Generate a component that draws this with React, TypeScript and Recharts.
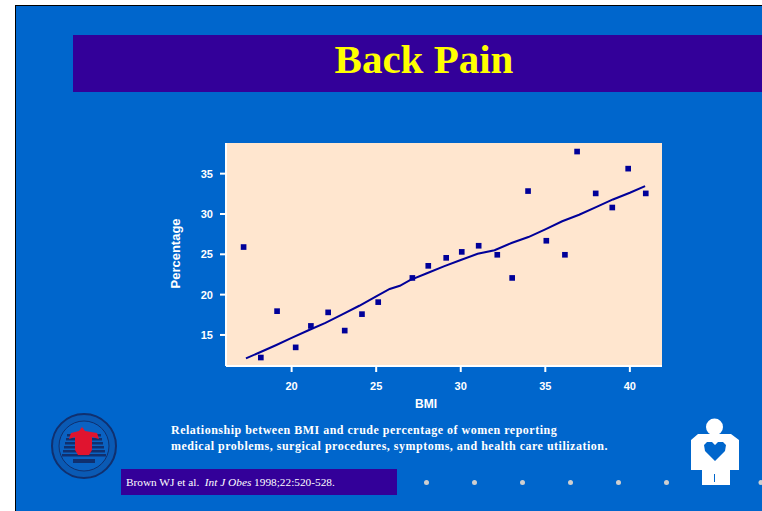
import React from 'react';
import { ComposedChart, Line, Scatter, XAxis, YAxis, ZAxis, CartesianGrid } from 'recharts';

const bmiPoints = [17.16, 18.18, 19.14, 20.24, 21.14, 22.16, 23.14, 24.16, 25.12, 27.14, 28.08, 29.14, 30.06, 31.06, 32.16, 33.04, 33.98, 35.06, 36.16, 36.88, 37.98, 38.96, 39.9, 40.94];
const percentPoints = [25.9, 12.2, 17.95, 13.46, 16.12, 17.8, 15.54, 17.58, 19.07, 22.07, 23.57, 24.56, 25.3, 26.06, 24.94, 22.07, 32.84, 26.68, 24.94, 37.74, 32.55, 30.8, 35.62, 32.55];
const fitBmi = [17.3, 18.2, 19.1, 20, 21, 22, 23, 24, 25, 25.8, 26.4, 27, 28, 29, 30, 31, 32, 33, 34, 35, 36, 37, 38, 39, 40, 40.9];
const fitPercent = [12.09, 12.92, 13.75, 14.63, 15.58, 16.5, 17.54, 18.62, 19.78, 20.7, 21.1, 21.8, 22.65, 23.5, 24.3, 25.06, 25.5, 26.4, 27.14, 28.1, 29.1, 29.9, 30.84, 31.8, 32.63, 33.46];
const xTicks = [20, 25, 30, 35, 40];
const yTicks = [15, 20, 25, 30, 35];
const dotsX = [426.5, 474.5, 522.5, 570.5, 618.5, 666.5, 761];

const scatterData = bmiPoints.map((x, i) => ({ x, y: percentPoints[i] }));
const fitData = fitBmi.map((x, i) => ({ x, fit: fitPercent[i] }));

const PURPLE = '#330099';
const BLUE = '#0066cc';
const tickStyle = { fill: '#ffffff', fontSize: 11, fontWeight: 700, fontFamily: 'Liberation Sans' };

const Logo = () => (
  <svg width={72} height={72} style={{ position: 'absolute', left: 48, top: 410 }}>
    <circle cx={36} cy={36} r={32} fill="#0a5ab4" stroke="#10306f" strokeWidth={2} />
    <circle cx={36} cy={36} r={25} fill="#0a62c2" stroke="#10306f" strokeWidth={1} />
    {[24, 28, 32, 36, 40, 44].map((y, i) => (
      <rect key={y} x={19 - i} y={y} width={34 + i * 2} height={2.5} fill="#10306f" />
    ))}
    <path d="M34 17 L37 21 L49 23 L51 29 L44 27 L44 40 L41 45 L30 45 L27 40 L27 27 L21 29 L23 23 L31 21 Z" fill="#e0142f" />
    <rect x={25} y={49} width={22} height={4} fill="#10306f" />
  </svg>
);

const Person = () => (
  <svg width={56} height={70} style={{ position: 'absolute', left: 688, top: 417 }}>
    <circle cx={26.5} cy={10} r={8.5} fill="#ffffff" />
    <path d="M10 17 L43 17 L51 23 L51 53 L42 53 L42 68 L14 68 L14 53 L3 53 L3 23 Z" fill="#ffffff" />
    <path d="M27 44 L17 34 L16 28 L19 25 L24 25 L27 28 L30 25 L35 25 L38 28 L37 34 Z" fill={BLUE} />
    <rect x={26} y={57} width={1} height={8} fill={BLUE} />
  </svg>
);

export default function App() {
  return (
    <div style={{ position: 'fixed', left: 0, top: 0, width: 762, height: 511, background: '#ffffff', overflow: 'hidden' }}>
      <div style={{ position: 'absolute', left: 15, top: 5, width: 747, height: 506, background: BLUE, borderLeft: '1px solid #000', borderTop: '1px solid #000', boxSizing: 'border-box' }} />
      <div style={{ position: 'absolute', left: 73, top: 35, width: 689, height: 57, background: PURPLE }} />
      <div style={{ position: 'absolute', left: 73, top: 35, width: 702, height: 49, lineHeight: '49px', textAlign: 'center', color: '#ffff00', fontFamily: 'Liberation Serif', fontWeight: 700, fontSize: 41 }}>
        Back Pain
      </div>

      <div style={{ position: 'absolute', left: 0, top: 0 }}>
        <ComposedChart
          width={762}
          height={511}
          data={fitData}
          margin={{ left: 175, right: 100, top: 143, bottom: 105 }}
        >
          <CartesianGrid fill="#ffe6cf" stroke="none" horizontal={false} vertical={false} />
          <XAxis
            type="number"
            dataKey="x"
            domain={[16.12, 41.9]}
            ticks={xTicks}
            stroke="#ffffff"
            strokeWidth={2}
            tickSize={6}
            tickMargin={10}
            height={40}
            tick={tickStyle}
            label={{ value: 'BMI', position: 'insideBottom', offset: 0, dx: -18, dy: 2, style: { ...tickStyle, fontSize: 12 } }}
          />
          <YAxis
            type="number"
            domain={[11.15, 38.8]}
            ticks={yTicks}
            stroke="#ffffff"
            strokeWidth={2}
            tickSize={6}
            tickMargin={7}
            width={51}
            tick={tickStyle}
            label={{ value: 'Percentage', angle: -90, position: 'insideLeft', offset: 0, dy: 34, style: { ...tickStyle, fontSize: 13 } }}
          />
          <ZAxis range={[32, 32]} />
          <Line data={fitData} dataKey="fit" type="linear" stroke="#000099" strokeWidth={2} dot={false} isAnimationActive={false} />
          <Scatter data={scatterData} dataKey="y" fill="#000099" shape="square" isAnimationActive={false} />
        </ComposedChart>
      </div>

      <div style={{ position: 'absolute', left: 171, top: 422, color: '#ffffff', fontFamily: 'Liberation Serif', fontWeight: 700, fontSize: 12, lineHeight: '16px', letterSpacing: 0.5, whiteSpace: 'nowrap' }}>
        Relationship between BMI and crude percentage of women reporting
        <br />
        medical problems, surgical procedures, symptoms, and health care utilization.
      </div>

      <div style={{ position: 'absolute', left: 121, top: 469, width: 276, height: 26, background: PURPLE }} />
      <div style={{ position: 'absolute', left: 126, top: 469, height: 26, lineHeight: '26px', color: '#ffffff', fontFamily: 'Liberation Serif', fontSize: 11.3, whiteSpace: 'pre' }}>
        Brown WJ et al.  <i>Int J Obes</i> 1998;22:520-528.
      </div>

      <svg width={762} height={511} style={{ position: 'absolute', left: 0, top: 0 }}>
        {dotsX.map((x) => (
          <circle key={x} cx={x} cy={482.5} r={2.5} fill="#cfcfcf" />
        ))}
      </svg>
      <Logo />
      <Person />
    </div>
  );
}
